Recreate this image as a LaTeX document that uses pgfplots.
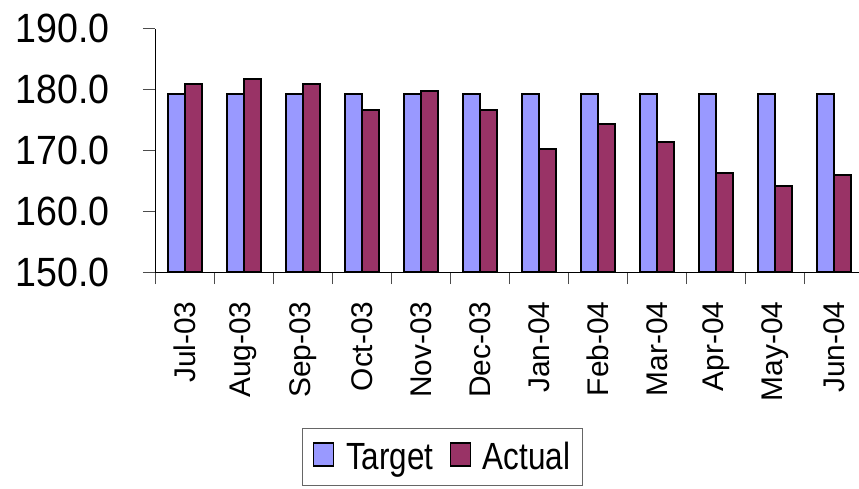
\documentclass[border=0pt]{standalone}
\usepackage{pgfplots}
\pgfplotsset{compat=1.18}
\usepackage{fontspec}
\setmainfont{Liberation Sans}
\newfontfamily\yfont{Liberation Sans}[FakeStretch=0.92]
\newfontfamily\lfont{Liberation Sans}[FakeStretch=0.83]
\definecolor{target}{HTML}{9999FF}
\definecolor{actual}{HTML}{993366}
\begin{document}
\begin{tikzpicture}
\begin{axis}[
  at={(155bp,217bp)}, anchor=south west,
  scale only axis,
  width=709bp, height=243.3bp,
  xmin=-0.5, xmax=11.5,
  ymin=150, ymax=190,
  ytick={150,160,170,180,190},
  xtick={-0.5,0.5,...,11.5},
  x tick label as interval,
  xticklabels={Jul-03,Aug-03,Sep-03,Oct-03,Nov-03,Dec-03,Jan-04,Feb-04,Mar-04,Apr-04,May-04,Jun-04},
  axis x line*=bottom, axis y line*=left,
  axis line style={-, black, line width=0.9pt},
  tick align=outside,
  major tick length=12bp,
  tick style={black!70, line width=0.9pt},
  /pgf/number format/assume math mode=true,
  yticklabel={\pgfmathprintnumber[fixed,fixed zerofill,precision=1]{\tick}},
  yticklabel style={font=\yfont\fontsize{41}{41}\selectfont, anchor=east},
  yticklabel shift=30bp,
  xticklabel style={font=\fontsize{30}{30}\selectfont, rotate=90, anchor=east},
  xticklabel shift=14bp,
  ybar=0pt, bar width=17bp,
  legend columns=2,
  legend style={at={(0.4055,-0.641)}, anchor=north, draw=black!60, line width=0.8pt,
    font=\lfont\fontsize{38}{38}\selectfont, inner xsep=10bp, inner ysep=12bp,
    /tikz/every odd column/.append style={column sep=10bp},
    /tikz/every even column/.append style={column sep=14bp}},
  legend image code/.code={\draw[#1, draw=black, line width=1.4pt, bar width=0pt] (0bp,-9bp) rectangle (20bp,14bp);},
]
\addplot[fill=target, draw=black, line width=2bp] coordinates {
(0,179.3) (1,179.3) (2,179.3) (3,179.3) (4,179.3) (5,179.3)
(6,179.3) (7,179.3) (8,179.3) (9,179.3) (10,179.3) (11,179.3)};
\addplot[fill=actual, draw=black, line width=2bp] coordinates {
(0,180.9) (1,181.75) (2,180.9) (3,176.7) (4,179.7) (5,176.7)
(6,170.3) (7,174.3) (8,171.4) (9,166.3) (10,164.2) (11,165.9)};
\legend{Target,Actual}
\end{axis}
\pgfresetboundingbox
\useasboundingbox (0,0) rectangle (859bp,489bp);
\end{tikzpicture}
\end{document}
